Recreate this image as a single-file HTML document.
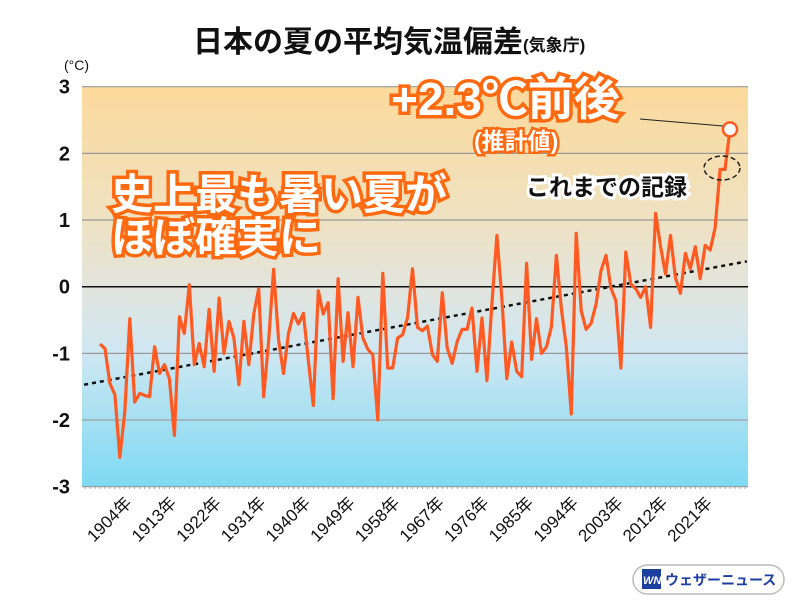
<!DOCTYPE html>
<html><head><meta charset="utf-8"><style>
body{margin:0;background:#fff;}
svg{display:block;font-family:"Liberation Sans","Noto Sans CJK JP",sans-serif;}
</style></head><body>
<svg id="chart" width="800" height="600" xmlns="http://www.w3.org/2000/svg">
<defs>
<linearGradient id="bg" x1="0" y1="0" x2="0" y2="1">
<stop offset="0" stop-color="#fcd99c"/>
<stop offset="0.33" stop-color="#efe2c2"/>
<stop offset="0.5" stop-color="#e2e4dc"/>
<stop offset="0.66" stop-color="#cfe7f2"/>
<stop offset="1" stop-color="#7dd9f3"/>
</linearGradient>
</defs>
<text x="193" y="52" font-size="30" font-weight="bold" fill="#111">日本の夏の平均気温偏差<tspan font-size="17" dy="-1">(気象庁)</tspan></text>
<rect x="82" y="86.7" width="666" height="400" fill="url(#bg)"/>
<g id="grid"></g>
<g id="yticks"></g>
<g id="xticks"></g>
<text x="64" y="70" font-size="14" fill="#111">(°C)</text>
<g id="trend"></g>
<g id="series"></g>
<line x1="640" y1="119" x2="723" y2="126" stroke="#222" stroke-width="1"/>
<text x="391" y="115" font-size="46" font-weight="bold" fill="#fff" stroke="#ff6a10" stroke-width="7" paint-order="stroke">+2.3℃前後</text>
<text x="474" y="149" font-size="23" font-weight="bold" fill="#fff" stroke="#ff6a10" stroke-width="5" paint-order="stroke">(推計値)</text>
<text x="526" y="195" font-size="23" font-weight="bold" fill="#111" stroke="#fff" stroke-width="6" paint-order="stroke">これまでの記録</text>
<ellipse cx="722" cy="168" rx="18" ry="12" fill="none" stroke="#222" stroke-width="1.5" stroke-dasharray="5,3"/>
<text x="111" y="209" font-size="42" font-weight="bold" fill="#fff" stroke="#ff6a10" stroke-width="7" paint-order="stroke">史上最も暑い夏が</text>
<text x="111" y="252" font-size="42" font-weight="bold" fill="#fff" stroke="#ff6a10" stroke-width="7" paint-order="stroke">ほぼ確実に</text>
<g>
<rect x="633" y="565" width="151" height="29" rx="14.5" fill="#fff" stroke="#bbb" stroke-width="1.5"/>
<rect x="642" y="569" width="19" height="20" fill="#1d3fa0"/>
<text x="643" y="584" font-size="11" font-weight="bold" fill="#fff" font-style="italic">WN</text>
<text x="665" y="585" font-size="14" font-weight="bold" fill="#1d3fa0">ウェザーニュース</text>
</g>
</svg>
<script>
const startYear = 1898;
const anomalies = [-0.86,-0.93,-1.45,-1.62,-2.56,-1.88,-0.48,-1.73,-1.6,-1.63,
-1.65,-0.9,-1.3,-1.17,-1.38,-2.23,-0.45,-0.7,0.03,-1.17,
-0.85,-1.2,-0.34,-1.27,-0.17,-1.0,-0.52,-0.77,-1.47,-0.52,
-1.17,-0.41,-0.03,-1.65,-0.8,0.26,-0.8,-1.3,-0.7,-0.4,
-0.56,-0.4,
-1.1,-1.78,-0.06,-0.41,-0.24,-1.68,0.12,-1.12,-0.39,-1.2,-0.16,-0.77,-0.94,-1.02,-2.0,0.2,-1.22,-1.22,-0.77,-0.72,-0.46,0.27,-0.61,-0.66,-0.59,-1.02,-1.12,-0.09,-0.92,-1.15,-0.82,-0.64,-0.64,-0.32,-1.27,-0.47,-1.41,-0.26,0.77,-0.16,-1.38,-0.83,-1.27,-1.35,0.35,
-1.09,-0.48,-1.0,-0.9,-0.6,0.47,-0.32,-0.9,-1.91,0.8,
-0.36,-0.64,-0.55,-0.26,0.24,0.47,-0.02,-0.21,-1.22,
0.52,0.04,-0.03,-0.16,0.0,-0.61,
1.1,0.6,0.19,0.77,0.14,-0.1,0.5,0.27,0.6,0.12,0.62,0.55,0.88,1.76,1.76,2.36];
const yTicks = [3,2,1,0,-1,-2,-3];
const xTickLabels = [1904,1913,1922,1931,1940,1949,1958,1967,1976,1985,1994,2003,2012,2021];
const trendYears = [1894.8, 2028.4];
const trendValues = [-1.47, 0.38];

const NS = "http://www.w3.org/2000/svg";
const lastYear = startYear + anomalies.length - 1;
function xs(year){ return 100 + (year - startYear) * (630 / (lastYear - startYear)); }
function ys(v){ return 286.7 - v * 66.67; }
function mk(tag, attrs, parent){ const e=document.createElementNS(NS,tag); for(const k in attrs) e.setAttribute(k,attrs[k]); parent.appendChild(e); return e; }

const grid=document.getElementById('grid'), yt=document.getElementById('yticks'), xt=document.getElementById('xticks');
yTicks.forEach(v=>{
  const l=mk('line',{x1:82,x2:748,y1:ys(v),y2:ys(v),stroke:v===0?'#111':'#999','stroke-width':v===0?1.5:1.2},grid);
  
  
  const t=mk('text',{x:70,y:ys(v)+7,'font-size':20,'font-weight':'bold','text-anchor':'end',fill:'#111'},yt);
  t.textContent=String(v);
  
  
});
for(let yr=1895; yr<=2028; yr++){
  const tk=mk('line',{x1:xs(yr),x2:xs(yr),y1:486.7,y2:489,stroke:'#888','stroke-width':0.7},xt);
  
  
}
xTickLabels.forEach(yr=>{
  const x=xs(yr)+3, y=504;
  const t=mk('text',{x:x,y:y,'font-size':17,'text-anchor':'end',fill:'#111',transform:`rotate(-45 ${x} ${y})`},xt);
  t.textContent=yr+'年';
  
  
});
const tr=mk('line',{x1:xs(trendYears[0]),y1:ys(trendValues[0]),x2:xs(trendYears[1]),y2:ys(trendValues[1]),stroke:'#111','stroke-width':2.5,'stroke-dasharray':'4,4'},document.getElementById('trend'));


const pts=anomalies.map((v,i)=>xs(startYear+i).toFixed(1)+','+ys(v).toFixed(1)).join(' ');
const pl=mk('polyline',{points:pts,fill:'none',stroke:'#ff5a22','stroke-width':3.2,'stroke-linejoin':'round'},document.getElementById('series'));


const lastV=anomalies[anomalies.length-1];
const c=mk('circle',{cx:xs(lastYear),cy:ys(lastV),r:7,fill:'#fff',stroke:'#ff5a22','stroke-width':2.5},document.getElementById('series'));


</script>
</body></html>
